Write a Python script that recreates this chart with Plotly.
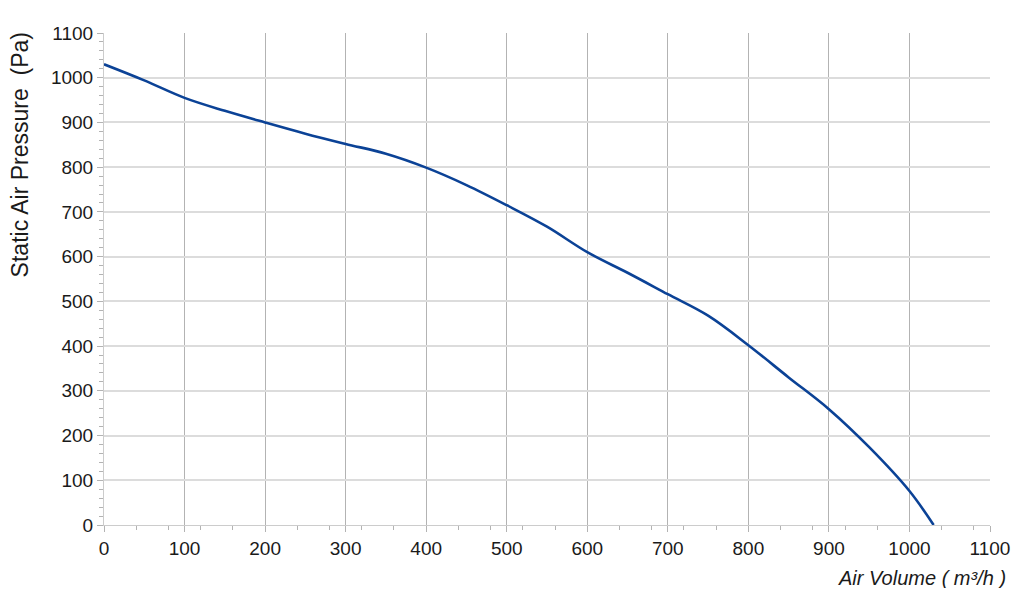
import plotly.graph_objects as go

# fan curve
air_volume = [0, 50, 100, 150, 200, 250, 300, 350, 400, 450, 500, 550,
              600, 650, 700, 750, 800, 850, 900, 950, 1000, 1030]
static_pressure = [1030, 994, 955, 926, 900, 875, 852, 830, 799, 760, 715, 667,
                   610, 564, 516, 468, 402, 330, 259, 174, 76, 0]

x_ticks = list(range(0, 1101, 100))
y_ticks = list(range(0, 1101, 100))

fig = go.Figure()
fig.add_trace(go.Scatter(x=air_volume, y=static_pressure, mode="lines",
                         line=dict(color="#0b4296", width=2.6, shape="spline", smoothing=1.0),
                         showlegend=False))

# page has an 8px body margin, so the figure is a bit smaller than the window
fig.update_layout(
  width=1008, height=580,
  margin=dict(l=96, r=26, t=25, b=63),
  paper_bgcolor="white", plot_bgcolor="white",
  font=dict(family="Liberation Sans, Arial, sans-serif", size=19, color="#1a1a1a"),
  xaxis=dict(range=[0, 1100], tickvals=x_ticks, showgrid=True, gridcolor="#b3b3b3", gridwidth=1,
             zeroline=False, showline=True, linecolor="#cccccc", linewidth=1, automargin=False,
             ticks="outside", ticklen=6, tickcolor="#b3b3b3",
             minor=dict(dtick=40, tick0=0, ticks="outside", ticklen=4, tickcolor="#b3b3b3", showgrid=False)),
  yaxis=dict(range=[0, 1100], tickvals=y_ticks, showgrid=True, gridcolor="#dcdcdc", gridwidth=1.5,
             zeroline=False, showline=True, linecolor="#cccccc", linewidth=1, automargin=False,
             ticks="outside", ticklen=6, tickcolor="#b3b3b3",
             minor=dict(dtick=20, tick0=0, ticks="outside", ticklen=4, tickcolor="#b3b3b3", showgrid=False)),
  annotations=[
    # y title sits near the top, not centred on the axis
    dict(text="Static Air Pressure  (Pa)", textangle=-90, xref="paper", yref="paper",
         x=-0.095, y=1.006, xanchor="center", yanchor="top", showarrow=False,
         font=dict(size=23, color="#1a1a1a", family="Liberation Sans, Arial, sans-serif")),
    dict(text="<i>Air Volume ( m³/h )</i>", xref="paper", yref="paper", x=1.02, y=-0.108,
         xanchor="right", yanchor="middle", showarrow=False,
         font=dict(size=20, color="#1a1a1a", family="Liberation Sans, Arial, sans-serif"))],
)

fig.write_html("out.html")
